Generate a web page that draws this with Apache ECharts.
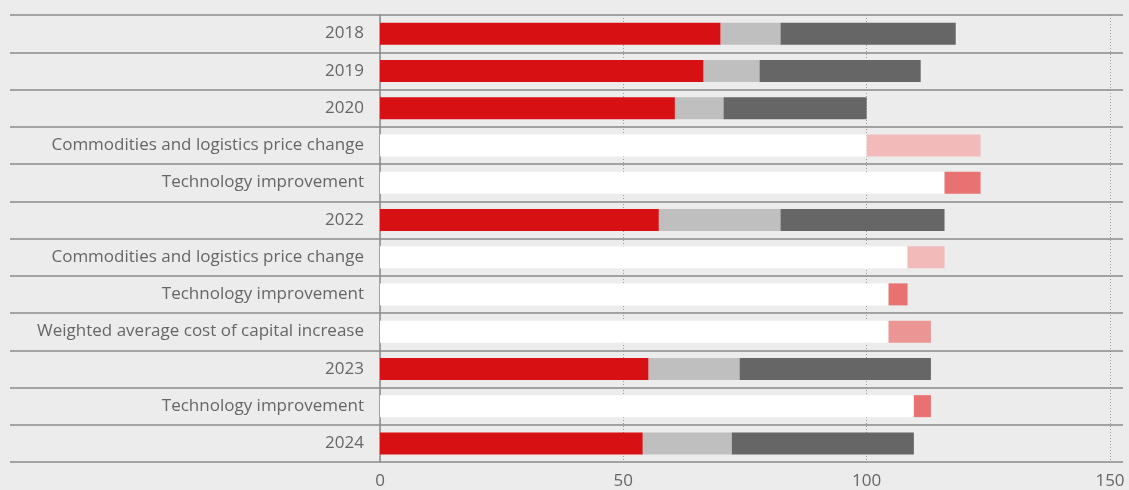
<!DOCTYPE html>
<html>
<head>
<meta charset="utf-8">
<script src="https://cdn.jsdelivr.net/npm/echarts@6/dist/echarts.min.js"></script>
<style>
  html, body { margin: 0; padding: 0; background: #ececec; }
  #chart { width: 1129px; height: 490px; }
</style>
</head>
<body>
<div id="chart"></div>
<script>
// Rows, top to bottom
const categories = [
  '2018',
  '2019',
  '2020',
  'Commodities and logistics price change',
  'Technology improvement',
  '2022',
  'Commodities and logistics price change',
  'Technology improvement',
  'Weighted average cost of capital increase',
  '2023',
  'Technology improvement',
  '2024'
];

// Cost components for the yearly totals (null on change rows)
const partRed   = [70.0, 66.5, 60.6, null, null, 57.3, null, null, null, 55.2, null, 54.0];
const partLight = [12.3, 11.5, 10.0, null, null, 25.0, null, null, null, 18.7, null, 18.3];
const partDark  = [36.0, 33.1, 29.4, null, null, 33.7, null, null, null, 39.3, null, 37.4];

// Waterfall steps: lower end (white spacer) and size of each change
const stepBase        = [null, null, null, 100.0, 116.0, null, 108.4, 104.5, 104.5, null, 109.7, null];
const stepCommodities = [null, null, null, 23.4, null, null, 7.6, null, null, null, null, null];
const stepTechnology  = [null, null, null, null, 7.4, null, null, 3.9, null, null, 3.5, null];
const stepWacc        = [null, null, null, null, null, null, null, null, 8.7, null, null, null];

const xTicks = [0, 50, 100, 150];

const FONT = '"Open Sans", sans-serif';
const z = v => (v == null ? 0 : v);

function barSeries(name, values, color) {
  return {
    name: name,
    type: 'bar',
    stack: 'total',
    barWidth: 22,
    silent: true,
    itemStyle: { color: color },
    data: values.map(z)
  };
}

const chart = echarts.init(document.getElementById('chart'), null, { renderer: 'canvas' });

chart.setOption({
  backgroundColor: '#ececec',
  animation: false,
  grid: { left: 380, right: 19, top: 15, bottom: 27, containLabel: false },
  xAxis: {
    type: 'value',
    min: xTicks[0],
    max: xTicks[xTicks.length - 1],
    interval: 50,
    axisLine: { show: false },
    axisTick: { show: false },
    axisLabel: {
      color: '#666',
      fontSize: 17,
      fontFamily: FONT,
      margin: 11
    },
    splitLine: {
      show: true,
      lineStyle: { color: '#9a9a9a', type: [1, 2], width: 1 }
    }
  },
  yAxis: [
    {
      type: 'category',
      inverse: true,
      data: categories,
      axisLine: { show: true, lineStyle: { color: '#8a8a8a', width: 1.5 } },
      axisTick: { show: true, length: 370, lineStyle: { color: '#8a8a8a', width: 1.5 } },
      axisLabel: {
        color: '#666',
        fontSize: 17,
        fontFamily: FONT,
        margin: 16
      },
      splitLine: { show: true, lineStyle: { color: '#8a8a8a', width: 1.5 } }
    },
    {
      type: 'category',
      inverse: true,
      position: 'right',
      data: categories,
      axisLine: { show: false },
      axisTick: { show: true, length: 13, lineStyle: { color: '#8a8a8a', width: 1.5 } },
      axisLabel: { show: false },
      splitLine: { show: false }
    }
  ],
  series: [
    barSeries('base', stepBase, '#ffffff'),
    barSeries('red', partRed, '#d71113'),
    barSeries('light', partLight, '#bfbfbf'),
    barSeries('dark', partDark, '#666666'),
    barSeries('commodities', stepCommodities, '#f3baba'),
    barSeries('technology', stepTechnology, '#e87272'),
    barSeries('wacc', stepWacc, '#ec9595')
  ]
});
</script>
</body>
</html>
